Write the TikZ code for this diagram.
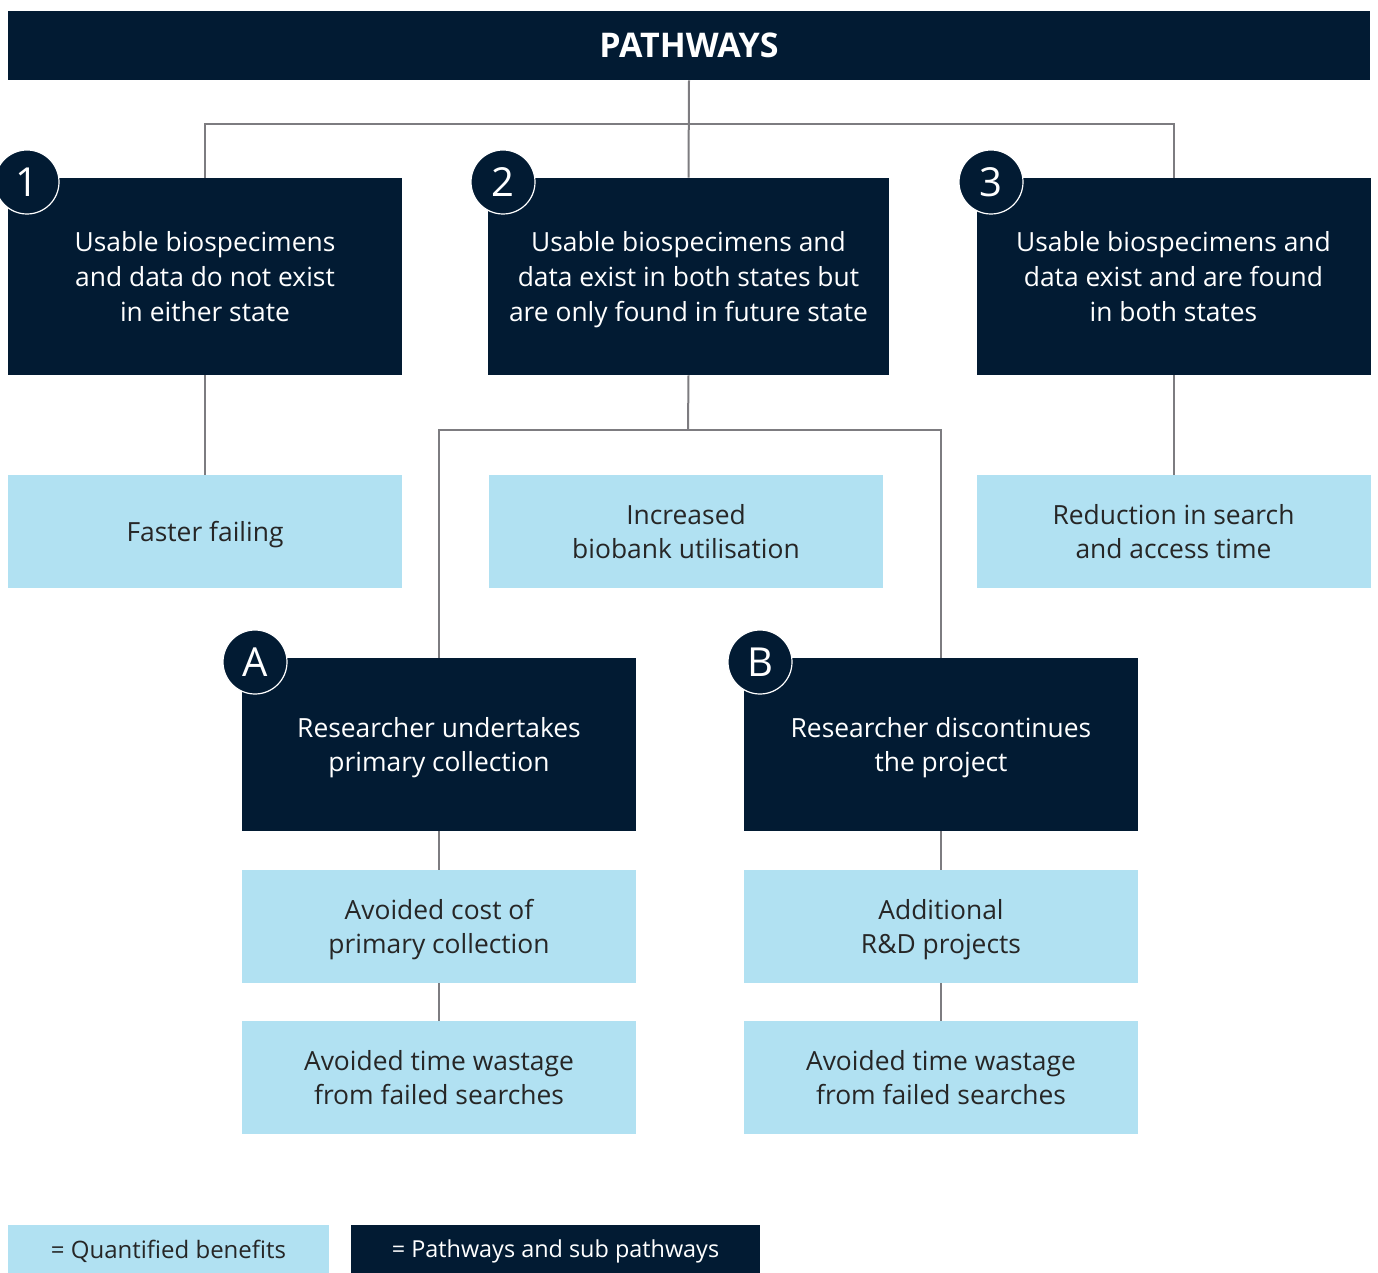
\documentclass[tikz,border=0pt]{standalone}
\usepackage{fontspec}
\setmainfont{Open Sans}
\usetikzlibrary{positioning,calc}

\definecolor{navy}{HTML}{021B33}
\definecolor{paleblue}{HTML}{B1E1F2}
\definecolor{linkgray}{HTML}{7D7C80}

\tikzset{
  pathbox/.style={fill=navy, text=white, inner sep=0pt, align=center, text depth=0pt},
  benefitbox/.style={fill=paleblue, text=black!85, inner sep=0pt, align=center, text depth=0pt},
  badge/.style={circle, fill=navy, draw=white, line width=0.6pt, text=white,
    minimum size=32pt, inner sep=0pt, font=\fontsize{20}{20}\selectfont},
  link/.style={draw=linkgray, line width=1pt}
}

\begin{document}
\begin{tikzpicture}[x=0.5pt, y=-0.5pt,
  font=\fontsize{13.2}{17.3}\selectfont]
  \useasboundingbox (0,0) rectangle (1378,1273);

  % header
  \node[pathbox, minimum width=681pt, minimum height=34.5pt, font=\fontsize{17}{20}\selectfont\bfseries] (title) at (689,45.5) {PATHWAYS};

  % the three pathways
  \node[pathbox, minimum width=197pt, minimum height=98.5pt] (pw1) at (205,276.5)
    {Usable biospecimens\\and data do not exist\\in either state};
  \node[pathbox, minimum width=200.5pt, minimum height=98.5pt] (pw2) at (688.5,276.5)
    {Usable biospecimens and\\data exist in both states but\\are only found in future state};
  \node[pathbox, minimum width=197pt, minimum height=98.5pt] (pw3) at (1173.5,276.5)
    {Usable biospecimens and\\data exist and are found\\in both states};

  \node[badge] (num1) at (27,182) {1};
  \node[badge] (num2) at (503,182) {2};
  \node[badge] (num3) at (991,182) {3};

  % benefits of the pathways
  \node[benefitbox, minimum width=197pt, minimum height=56.5pt] (ben1) at (205,531.5) {Faster failing};
  \node[benefitbox, minimum width=197pt, minimum height=56.5pt] (ben2) at (686,531.5) {Increased\\biobank utilisation};
  \node[benefitbox, minimum width=197pt, minimum height=56.5pt] (ben3) at (1173.5,531.5) {Reduction in search\\and access time};

  % sub pathways
  \node[pathbox, minimum width=197pt, minimum height=86.5pt] (subA) at (439,744.5)
    {Researcher undertakes\\primary collection};
  \node[pathbox, minimum width=197pt, minimum height=86.5pt] (subB) at (941,744.5)
    {Researcher discontinues\\the project};

  \node[badge] (numA) at (255,662) {A};
  \node[badge] (numB) at (760,662) {B};

  \node[benefitbox, minimum width=197pt, minimum height=56.5pt] (benA1) at (439,926.5) {Avoided cost of\\primary collection};
  \node[benefitbox, minimum width=197pt, minimum height=56.5pt] (benA2) at (439,1077.5) {Avoided time wastage\\from failed searches};
  \node[benefitbox, minimum width=197pt, minimum height=56.5pt] (benB1) at (941,926.5) {Additional\\R\&D projects};
  \node[benefitbox, minimum width=197pt, minimum height=56.5pt] (benB2) at (941,1077.5) {Avoided time wastage\\from failed searches};

  % connectors
  \coordinate (split) at (688,124);
  \coordinate (split2) at (688,430);
  \draw[link] (title.south) -- (pw2.north);
  \draw[link] (pw1.north) -- (pw1.north |- split) -- (pw3.north |- split) -- (pw3.north);
  \draw[link] (pw1.south) -- (ben1.north);
  \draw[link] (pw3.south) -- (ben3.north);
  \draw[link] (pw2.south) -- (split2);
  \draw[link] (subA.north) -- (subA.north |- split2) -- (subB.north |- split2) -- (subB.north);
  \draw[link] (subA.south) -- (benA1.north);
  \draw[link] (benA1.south) -- (benA2.north);
  \draw[link] (subB.south) -- (benB1.north);
  \draw[link] (benB1.south) -- (benB2.north);

  % legend
  \node[benefitbox, minimum width=160.5pt, minimum height=24pt, font=\fontsize{12}{14}\selectfont] (keyben) at (168.5,1249) {= Quantified benefits};
  \node[pathbox, minimum width=204.5pt, minimum height=24pt, font=\fontsize{11.7}{14}\selectfont] (keypath) at (555.5,1249) {= Pathways and sub pathways};
\end{tikzpicture}
\end{document}
